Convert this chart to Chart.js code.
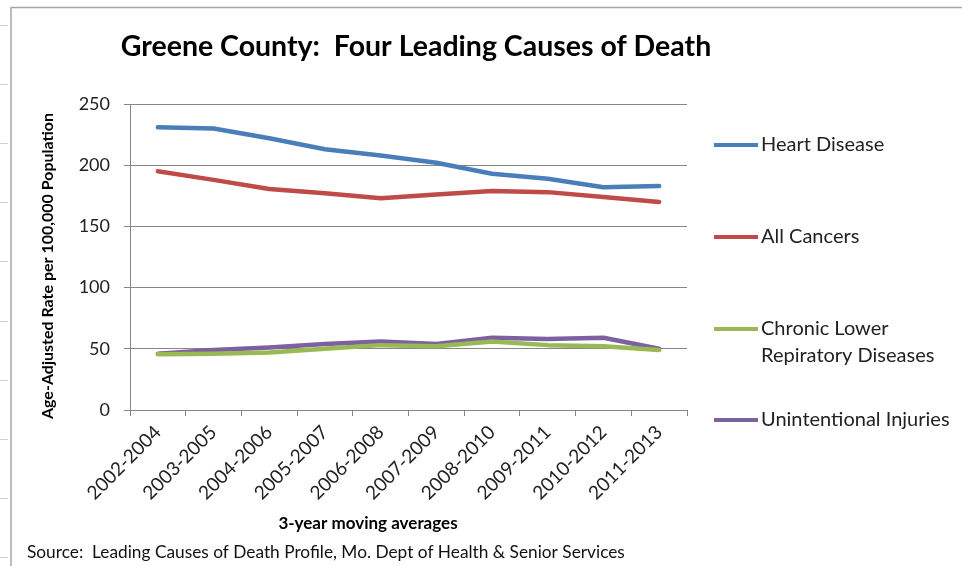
<!DOCTYPE html>
<html>
<head>
<meta charset="utf-8">
<script src="https://cdn.jsdelivr.net/npm/chart.js@4/dist/chart.umd.min.js"></script>
<style>
  html, body { margin: 0; padding: 0; background: #fff; }
  #wrap { width: 962px; height: 566px; position: relative; }
</style>
</head>
<body>
<div id="wrap"><canvas id="c"></canvas></div>
<script>
// 3-year moving averages, age-adjusted rate per 100,000 population
const periods = ['2002-2004', '2003-2005', '2004-2006', '2005-2007', '2006-2008',
                 '2007-2009', '2008-2010', '2009-2011', '2010-2012', '2011-2013'];
const heartDisease          = [231, 230, 222, 213, 208, 202, 193, 189, 182, 183];
const allCancers            = [195, 188, 180.5, 177, 173, 176, 179, 178, 174, 170];
const chronicLowerResp      = [45.5, 46, 47, 50, 53, 52, 56, 53, 52, 49];
const unintentionalInjuries = [46, 49, 51, 54, 56, 54, 59, 58, 59, 50];
const yTicks = [0, 50, 100, 150, 200, 250];
const seriesLabels = [['Heart Disease'], ['All Cancers'],
                      ['Chronic Lower', 'Repiratory Diseases'], ['Unintentional Injuries']];
const seriesColors = ['#4A7EBB', '#BE4B48', '#98B954', '#7D60A0'];

const titleText = 'Greene County:  Four Leading Causes of Death';
const yTitleText = 'Age-Adjusted Rate per 100,000 Population';
const xTitleText = '3-year moving averages';
const sourceText = 'Source:  Leading Causes of Death Profile, Mo. Dept of Health & Senior Services';

const FONT = 'Lato, "Open Sans", sans-serif';

// Sheet frame, titles, source note and the side legend
const decorations = {
  id: 'decorations',
  afterDraw(chart) {
    const ctx = chart.ctx;
    ctx.save();

    // frame of the sheet region
    ctx.strokeStyle = '#A6A6A6';
    ctx.lineWidth = 1.5;
    ctx.beginPath();
    ctx.moveTo(11, 566); ctx.lineTo(11, 7.5); ctx.lineTo(962, 7.5);
    ctx.stroke();
    ctx.strokeStyle = '#D0D0D0';
    ctx.lineWidth = 1;
    for (let k = 0; k < 10; k++) {
      const y = Math.round(25 + k * 59.1) + 0.5;
      ctx.beginPath(); ctx.moveTo(0, y); ctx.lineTo(8, y); ctx.stroke();
    }

    // chart title
    ctx.fillStyle = '#000';
    ctx.textBaseline = 'alphabetic';
    ctx.textAlign = 'center';
    ctx.font = 'bold 28.5px ' + FONT;
    ctx.fillText(titleText, 416, 56);

    // value-axis title
    ctx.save();
    ctx.translate(53, 266);
    ctx.rotate(-Math.PI / 2);
    ctx.font = 'bold 16px ' + FONT;
    ctx.fillText(yTitleText, 0, 0);
    ctx.restore();

    // category-axis title
    ctx.font = 'bold 17px ' + FONT;
    ctx.fillText(xTitleText, 368, 529);

    // source note
    ctx.textAlign = 'left';
    ctx.font = '17.3px ' + FONT;
    ctx.fillStyle = '#111';
    ctx.fillText(sourceText, 27, 558);

    // legend
    const legendY = [145, 237, 329, 420];
    ctx.font = '20px ' + FONT;
    ctx.textBaseline = 'middle';
    chart.data.datasets.forEach((ds, i) => {
      const y = legendY[i];
      ctx.strokeStyle = ds.borderColor;
      ctx.lineWidth = 4;
      ctx.lineCap = 'butt';
      ctx.beginPath(); ctx.moveTo(714, y); ctx.lineTo(758, y); ctx.stroke();
      ctx.fillStyle = '#222';
      seriesLabels[i].forEach((line, j) => ctx.fillText(line, 761, y + j * 27));
    });

    ctx.restore();
  }
};

function build() {
  const mk = (label, data, color) => ({
    label, data,
    borderColor: color,
    backgroundColor: color,
    borderWidth: 4.5,
    pointRadius: 0,
    pointHoverRadius: 0,
    tension: 0,
    borderCapStyle: 'round',
    borderJoinStyle: 'round',
    fill: false
  });

  new Chart(document.getElementById('c'), {
    type: 'line',
    data: {
      labels: periods,
      datasets: [
        mk(seriesLabels[0].join(' '), heartDisease, seriesColors[0]),
        mk(seriesLabels[1].join(' '), allCancers, seriesColors[1]),
        mk(seriesLabels[2].join(' '), chronicLowerResp, seriesColors[2]),
        mk(seriesLabels[3].join(' '), unintentionalInjuries, seriesColors[3])
      ]
    },
    options: {
      responsive: true,
      maintainAspectRatio: false,
      animation: false,
      events: [],
      layout: { padding: { left: 0, right: 275, top: 104, bottom: 0 } },
      plugins: {
        legend: { display: false },
        title: { display: false },
        tooltip: { enabled: false }
      },
      scales: {
        x: {
          type: 'category',
          offset: true,
          afterFit: s => { s.height = 156; },
          grid: {
            offset: true,
            drawOnChartArea: false,
            drawTicks: true,
            tickLength: 6,
            color: '#868686',
            lineWidth: 1
          },
          border: { display: true, color: '#868686', width: 1 },
          ticks: {
            autoSkip: false,
            minRotation: 45,
            maxRotation: 45,
            padding: 5,
            color: '#222',
            font: { family: FONT, size: 19 }
          }
        },
        y: {
          min: 0,
          max: 250,
          afterFit: s => { s.width = 130; },
          afterBuildTicks: s => { s.ticks = yTicks.map(v => ({ value: v })); },
          grid: {
            drawTicks: true,
            tickLength: 6,
            color: '#868686',
            lineWidth: 1
          },
          border: { display: true, color: '#868686', width: 1 },
          ticks: {
            padding: 14,
            color: '#222',
            font: { family: FONT, size: 18 }
          }
        }
      }
    },
    plugins: [decorations]
  });
}

Promise.all([
  document.fonts.load('18px Lato'),
  document.fonts.load('bold 18px Lato')
]).then(build, build);
</script>
</body>
</html>
